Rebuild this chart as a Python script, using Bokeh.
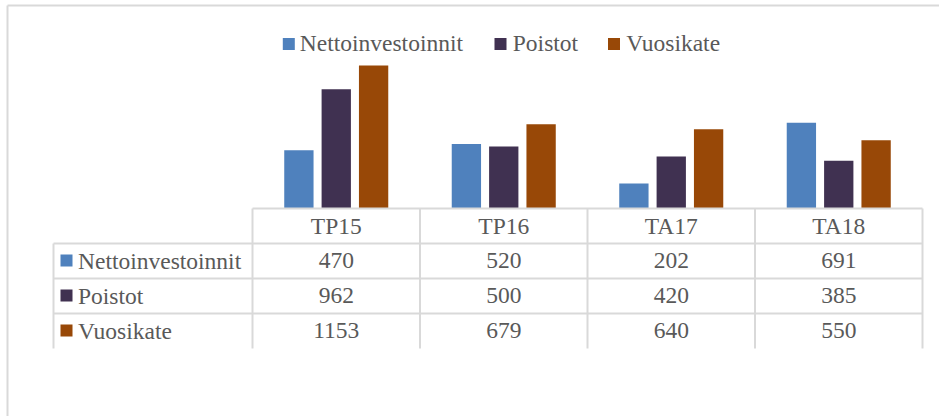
import numpy as np
from bokeh.plotting import figure
from bokeh.models import Range1d
from bokeh.core.properties import value
from bokeh.embed import file_html
from bokeh.resources import INLINE

# ---- data ----
categories = ["TP15", "TP16", "TA17", "TA18"]
series_names = ["Nettoinvestoinnit", "Poistot", "Vuosikate"]
nettoinvestoinnit = [470, 520, 202, 691]
poistot = [962, 500, 420, 385]
vuosikate = [1153, 679, 640, 550]
series_values = [nettoinvestoinnit, poistot, vuosikate]
colors = ["#4F81BD", "#403151", "#984807"]

# ---- layout constants (pixels) ----
W, H = 939, 416
COL_W = 167.5            # px per category column
X0 = 252                 # left edge of first category column
BASE = 208               # baseline (value 0) from figure top
PX_PER_UNIT = 0.124      # px per value unit
ROW_H = 35               # table row height

FONT = value("Liberation Serif")
FS = "23.5px"
TXT = "#595959"
GRID = "#D9D9D9"

x_range = Range1d(-X0 / COL_W, (W - X0) / COL_W)
y_range = Range1d(-(H - BASE) / PX_PER_UNIT, BASE / PX_PER_UNIT)

p = figure(width=W, height=H, x_range=x_range, y_range=y_range,
           output_backend="svg", toolbar_location=None,
           x_axis_type=None, y_axis_type=None, min_border=0)
p.min_border_left = p.min_border_right = p.min_border_top = p.min_border_bottom = 0
p.outline_line_color = None
p.background_fill_color = "white"
p.border_fill_color = "white"
p.extra_y_ranges = {"tbl": Range1d(start=(H - BASE) / ROW_H, end=-BASE / ROW_H)}


def px(xpage):
    return (xpage - X0) / COL_W


def tr(ypage):
    return (ypage - BASE) / ROW_H


# ---- chart frame border (top + left) ----
p.segment(x0=[px(7)], x1=[x_range.end], y0=[tr(5)], y1=[tr(5)],
          y_range_name="tbl", line_color=GRID, line_width=2)
p.segment(x0=[px(7)], x1=[px(7)], y0=[tr(5)], y1=[tr(H)],
          y_range_name="tbl", line_color=GRID, line_width=2)

# ---- bars ----
offsets = [-0.223, 0.0, 0.223]
idx = np.arange(len(categories))
for k, vals in enumerate(series_values):
    p.vbar(x=idx + 0.5 + offsets[k], top=vals, bottom=0, width=0.175,
           fill_color=colors[k], line_color=None)

# ---- data table lines ----
ncat = len(categories)
nrows = len(series_names)
left_x = px(53)
p.segment(x0=[0], x1=[ncat], y0=[0], y1=[0], y_range_name="tbl", line_color=GRID, line_width=2)
p.segment(x0=[left_x] * nrows, x1=[ncat] * nrows, y0=list(range(1, nrows + 2)),
          y1=list(range(1, nrows + 2)), y_range_name="tbl", line_color=GRID, line_width=2)
p.segment(x0=list(range(ncat + 1)), x1=list(range(ncat + 1)), y0=[0] * (ncat + 1),
          y1=[nrows + 1] * (ncat + 1), y_range_name="tbl", line_color=GRID, line_width=2)
p.segment(x0=[left_x], x1=[left_x], y0=[1], y1=[nrows + 1], y_range_name="tbl",
          line_color=GRID, line_width=2)

MID = 0.5 - 0.5 / ROW_H
# header
p.text(x=idx + 0.5, y=[MID] * ncat, text=categories, y_range_name="tbl",
       text_align="center", text_baseline="middle", text_font=FONT,
       text_font_size=FS, text_color=TXT)
# values
for k, vals in enumerate(series_values):
    p.text(x=idx + 0.5, y=[k + 1 + MID] * ncat, text=[str(v) for v in vals], y_range_name="tbl",
           text_align="center", text_baseline="middle", text_font=FONT,
           text_font_size=FS, text_color=TXT)
# row labels
rows = np.arange(nrows)
p.scatter(x=[px(66)] * nrows, y=rows + 1.5 - 0.5 / ROW_H, marker="square", size=12,
          fill_color=colors, line_color=None, y_range_name="tbl")
p.text(x=[px(77.5)] * nrows, y=rows + 1 + MID, text=series_names, y_range_name="tbl",
       text_align="left", text_baseline="middle", text_font=FONT,
       text_font_size=FS, text_color=TXT)

# ---- legend (top) ----
leg_sq_x = [px(288.3), px(500), px(613.5)]
leg_tx_x = [px(299.3), px(512.3), px(625.7)]
p.scatter(x=leg_sq_x, y=[tr(43.5)] * nrows, marker="square", size=12,
          fill_color=colors, line_color=None, y_range_name="tbl")
p.text(x=leg_tx_x, y=[tr(42)] * nrows, text=series_names, y_range_name="tbl",
       text_align="left", text_baseline="middle", text_font=FONT,
       text_font_size=FS, text_color=TXT)

open("out.html", "w").write(file_html(p, INLINE))
